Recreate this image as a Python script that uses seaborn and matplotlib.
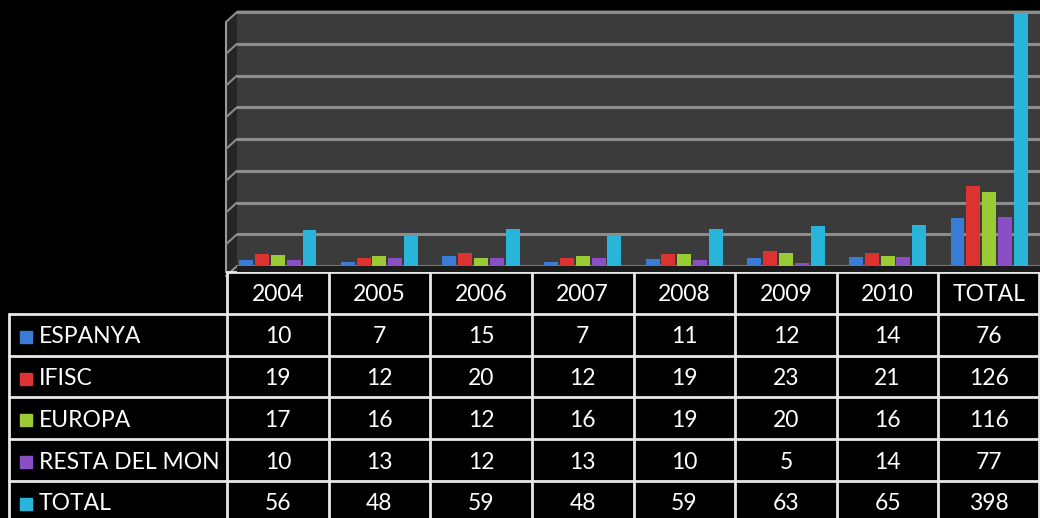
import matplotlib
matplotlib.use('Agg')
import matplotlib.pyplot as plt
from matplotlib.patches import Polygon, Rectangle
import pandas as pd
import seaborn as sns

years = ['2004', '2005', '2006', '2007', '2008', '2009', '2010', 'TOTAL']
series = ['ESPANYA', 'IFISC', 'EUROPA', 'RESTA DEL MON', 'TOTAL']
espanya = [10, 7, 15, 7, 11, 12, 14, 76]
ifisc = [19, 12, 20, 12, 19, 23, 21, 126]
europa = [17, 16, 12, 16, 19, 20, 16, 116]
resta = [10, 13, 12, 13, 10, 5, 14, 77]
total = [56, 48, 59, 48, 59, 63, 65, 398]
colors = ['#3a7bd5', '#dc3330', '#9acb34', '#8a4fc4', '#29b4da']

# layout in pixels
W, H = 1040, 518
col_x0 = 227
col_w = (W - col_x0) / len(years)
wall_x = 237
row_y0 = 272
row_h = 41.8
tab_x0 = 9
line_c = '#e8e8e8'

values = [espanya, ifisc, europa, resta, total]
df = pd.DataFrame({
    'year': years * len(series),
    'serie': [s for s in series for _ in years],
    'value': [v for vals in values for v in vals],
})

sns.set_theme(style='dark')
plt.rcParams['font.family'] = ['Lato', 'DejaVu Sans']

fig = plt.figure(figsize=(W / 100, H / 100), dpi=100, facecolor='black')

# overlay in pixel coords for the table and the 3d wall
tab = fig.add_axes([0, 0, 1, 1], zorder=0)
tab.set_xlim(0, W)
tab.set_ylim(H, 0)
tab.axis('off')
tab.set_facecolor('black')

y_zero, y_top = 266, 12
px_per = (y_zero - y_top) / 400
ax = fig.add_axes([wall_x / W, (H - row_y0) / H, (W - wall_x) / W, (row_y0 - 10) / H], zorder=1)
sns.barplot(data=df, x='year', y='value', hue='serie', palette=colors, width=0.78,
            gap=0.12, saturation=1, legend=False, linewidth=0, ax=ax, zorder=3)
ax.set_facecolor('#3b3b3b')
ax.set_xlim(-0.5 + (wall_x - col_x0) / col_w, len(years) - 0.5)
ax.set_ylim(-(row_y0 - y_zero) / px_per, 400 + 2 / px_per)
ax.set_yticks(range(0, 401, 50))
ax.yaxis.grid(True, color='#8c8c8c', lw=2.2)
ax.xaxis.grid(False)
ax.set_yticklabels([])
ax.set_xticklabels([])
ax.set_xlabel('')
ax.set_ylabel('')
ax.tick_params(length=0)
ax.axhspan(-(row_y0 - y_zero) / px_per, 0, color='#1c1c1c', zorder=2)
for s in ax.spines.values():
    s.set_visible(False)

# left side wall
tab.add_patch(Polygon([(226, y_top + 10), (wall_x, y_top), (wall_x, row_y0), (226, row_y0)],
                      closed=True, color='#252525', zorder=1))
tab.plot([226, 226], [y_top + 10, row_y0], color='#9a9a9a', lw=1.5)
for g in range(0, 401, 50):
    yg = y_zero - g * px_per
    tab.plot([226, wall_x], [yg + 10, yg], color='#8c8c8c', lw=1.5)

# table lines
n_rows = len(series)
tab.plot([col_x0, W], [row_y0, row_y0], color=line_c, lw=2)
for r in range(1, n_rows + 1):
    yr = row_y0 + r * row_h
    tab.plot([tab_x0, W], [yr, yr], color=line_c, lw=2)
tab.plot([tab_x0, tab_x0], [row_y0 + row_h, H], color=line_c, lw=2)
for k in range(len(years) + 1):
    xk = min(col_x0 + k * col_w, W - 1)
    tab.plot([xk, xk], [row_y0, H], color=line_c, lw=2)

# table texts
fs = 16.5
for k, yr_label in enumerate(years):
    tab.text(col_x0 + (k + 0.5) * col_w, row_y0 + 0.55 * row_h, yr_label,
             color='white', fontsize=fs, ha='center', va='center')
for r, (name, vals, c) in enumerate(zip(series, values, colors)):
    yc = row_y0 + (r + 1.55) * row_h
    tab.add_patch(Rectangle((20, yc - 6), 12, 12, color=c))
    tab.text(39, yc, name, color='white', fontsize=fs, ha='left', va='center')
    for k, v in enumerate(vals):
        tab.text(col_x0 + (k + 0.5) * col_w, yc, str(v), color='white',
                 fontsize=fs, ha='center', va='center')

fig.savefig('out.png', dpi=100, facecolor='black')
